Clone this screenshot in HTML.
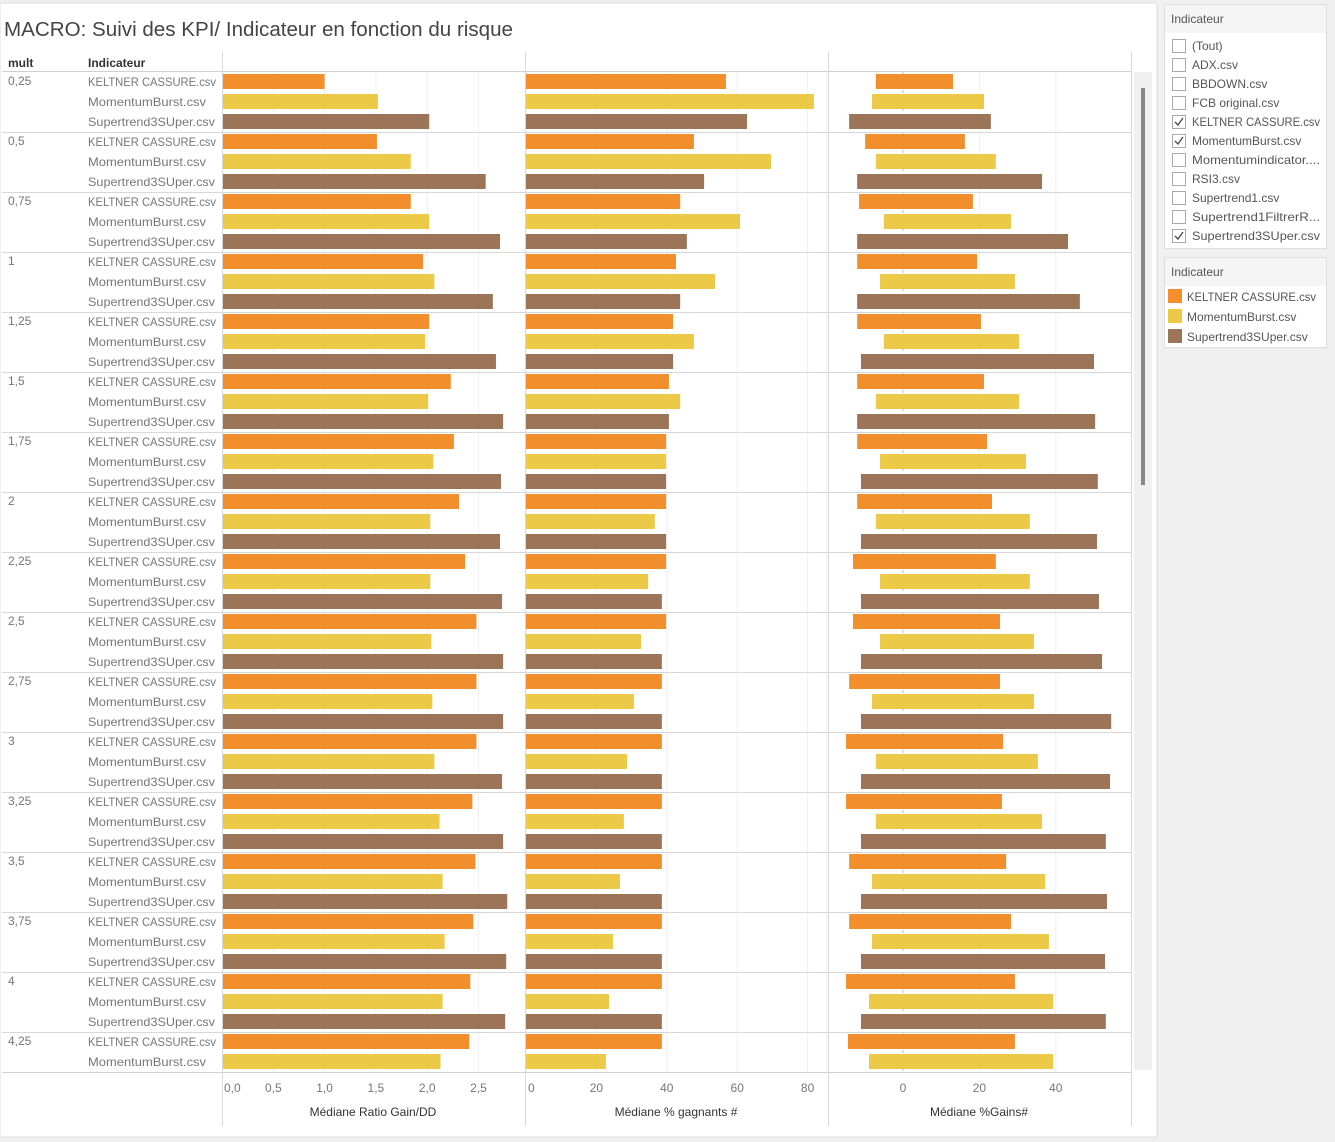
<!DOCTYPE html>
<html><head><meta charset="utf-8"><style>
body{margin:0;background:#f0f0f0;font-family:"Liberation Sans",sans-serif;}
svg{display:block}
text{font-family:"Liberation Sans",sans-serif;}
</style></head><body>
<svg id="c" width="1335" height="1142" xmlns="http://www.w3.org/2000/svg">
<rect x="0" y="0" width="1335" height="1142" fill="#f0f0f0"/>
<rect x="0" y="3" width="1157" height="1134" fill="#fff" stroke="#ddd"/>
<text x="4" y="36" font-size="20" fill="#444" textLength="509" lengthAdjust="spacingAndGlyphs">MACRO: Suivi des KPI/ Indicateur en fonction du risque</text>
<text x="8" y="67" font-size="12" font-weight="bold" fill="#333">mult</text>
<text x="88" y="67" font-size="12" font-weight="bold" fill="#333">Indicateur</text>
<g id="plot"></g>
<rect x="1134" y="72" width="18" height="998" fill="#f0f0f0"/>
<rect x="1141" y="88" width="4" height="397" fill="#888"/>
<g>
<rect x="1164.5" y="4.5" width="162" height="244" fill="#fff" stroke="#ddd"/>
<rect x="1165" y="5" width="161" height="28" fill="#f5f5f5"/>
<text x="1171" y="23" font-size="12" fill="#555">Indicateur</text>
<g id="filters"></g>
</g>
<g>
<rect x="1164.5" y="257.5" width="162" height="90" fill="#fff" stroke="#ddd"/>
<rect x="1165" y="258" width="161" height="28" fill="#f5f5f5"/>
<text x="1171" y="276" font-size="12" fill="#555">Indicateur</text>
<rect x="1168" y="289" width="14" height="14" fill="#F28E2B"/>
<text x="1187" y="301" font-size="12" fill="#555" textLength="129" lengthAdjust="spacingAndGlyphs">KELTNER CASSURE.csv</text>
<rect x="1168" y="309" width="14" height="14" fill="#EDC948"/>
<text x="1187" y="321" font-size="12" fill="#555">MomentumBurst.csv</text>
<rect x="1168" y="329" width="14" height="14" fill="#9C7559"/>
<text x="1187" y="341" font-size="12" fill="#555">Supertrend3SUper.csv</text>
</g>
</svg>
<script>
const mults=["0,25","0,5","0,75","1","1,25","1,5","1,75","2","2,25","2,5","2,75","3","3,25","3,5","3,75","4","4,25"];
const indicators=["KELTNER CASSURE.csv","MomentumBurst.csv","Supertrend3SUper.csv"];
const ratioK=[1.00,1.51,1.84,1.96,2.02,2.23,2.26,2.31,2.37,2.48,2.48,2.48,2.44,2.47,2.45,2.42,2.41];
const ratioM=[1.52,1.84,2.02,2.07,1.98,2.01,2.06,2.03,2.03,2.04,2.05,2.07,2.12,2.15,2.17,2.15,2.13];
const ratioS=[2.02,2.57,2.71,2.64,2.67,2.74,2.72,2.71,2.73,2.74,2.74,2.73,2.74,2.78,2.77,2.76,2.76];
const gagK=[56.8,47.7,43.8,42.6,41.8,40.6,39.8,39.8,39.8,39.8,38.6,38.6,38.6,38.6,38.6,38.6,38.6];
const gagM=[81.8,69.6,60.8,53.7,47.7,43.8,39.8,36.6,34.7,32.7,30.7,28.7,27.8,26.7,24.7,23.6,22.7];
const gagS=[62.8,50.6,45.7,43.8,41.8,40.6,39.8,39.8,38.6,38.6,38.6,38.6,38.6,38.6,38.6,38.6,38.6];
const gainLowK=[-7.1,-9.9,-11.5,-12,-12,-12,-12,-12,-13.1,-13.1,-14.1,-14.9,-14.9,-14.1,-14.1,-14.9,-14.4];
const gainHighK=[13.1,16.2,18.3,19.4,20.4,21.2,22,23.3,24.3,25.4,25.4,26.2,25.9,27,28.3,29.3,29.3];
const gainLowM=[-8.1,-7.1,-5,-6,-5,-7.1,-6,-7.1,-6,-6,-8.1,-7.1,-7.1,-8.1,-8.1,-8.9,-8.9];
const gainHighM=[21.2,24.3,28.3,29.3,30.4,30.4,32.2,33.2,33.2,34.3,34.3,35.3,36.4,37.2,38.2,39.3,39.3];
const gainLowS=[-14.1,-12,-12,-12,-11,-12,-11,-11,-11,-11,-11,-11,-11,-11,-11,-11,-11];
const gainHighS=[23,36.4,43.2,46.3,50,50.3,51,50.8,51.3,52.1,54.5,54.2,53.1,53.4,52.9,53.1,53.1];
const ticks1=[0,0.5,1,1.5,2,2.5];
const ticks1Labels=["0,0","0,5","1,0","1,5","2,0","2,5"];
const ticks2=[0,20,40,60,80];
const ticks3=[0,20,40];
const colors=["#F28E2B","#EDC948","#9C7559"];
const labelWidths=[128,118,127];
const filterItems=["(Tout)","ADX.csv","BBDOWN.csv","FCB original.csv","KELTNER CASSURE.csv","MomentumBurst.csv","Momentumindicator....","RSI3.csv","Supertrend1.csv","Supertrend1FiltrerR...","Supertrend3SUper.csv"];
const filterChecked=[false,false,false,false,true,true,false,false,false,false,true];

const NS="http://www.w3.org/2000/svg";
const plot=document.getElementById('plot');
function el(tag,attrs,parent,txt){const e=document.createElementNS(NS,tag);for(const k in attrs)e.setAttribute(k,attrs[k]);if(txt!==undefined)e.textContent=txt;(parent||plot).appendChild(e);return e;}
const x1=v=>222+v*102.6, x2=v=>526+v*3.52, x3=v=>903+v*3.82;
const TOP=72, ROW=20, BOT=1072;
ticks1.forEach(t=>{if(t>0){const g=el('line',{x1:x1(t),x2:x1(t),y1:TOP,y2:BOT,stroke:'#f0f0f0'});}});
ticks2.forEach(t=>{if(t>0){const g=el('line',{x1:x2(t),x2:x2(t),y1:TOP,y2:BOT,stroke:'#f0f0f0'});}});
[-20,20,40].forEach(t=>{const g=el('line',{x1:x3(t),x2:x3(t),y1:TOP,y2:BOT,stroke:'#f0f0f0'});});
const z=el('line',{x1:x3(0),x2:x3(0),y1:TOP,y2:BOT,stroke:'#bbb','stroke-dasharray':'3,3'});

const series=[[ratioK,ratioM,ratioS],[gagK,gagM,gagS]];
const lows=[gainLowK,gainLowM,gainLowS], highs=[gainHighK,gainHighM,gainHighS];
mults.forEach((m,gi)=>{
  const gy=TOP+gi*60;
  const t=el('text',{x:8,y:gy+13,'font-size':12,fill:'#777'},plot,m);
  
  indicators.forEach((ind,ri)=>{
    const y=gy+ri*ROW+2;
    if(y+15>BOT)return;
    const lt=el('text',{x:88,y:y+12,'font-size':12,fill:'#777',textLength:labelWidths[ri],lengthAdjust:'spacingAndGlyphs'},plot,ind);
    
    const v1=series[0][ri][gi], v2=series[1][ri][gi];
    const b1=el('rect',{x:x1(0)+1,y:y,width:x1(v1)-x1(0)-1,height:15,fill:colors[ri]});
    
    const b2=el('rect',{x:x2(0),y:y,width:x2(v2)-x2(0),height:15,fill:colors[ri]});
    
    const lo=lows[ri][gi], hi=highs[ri][gi];
    const b3=el('rect',{x:x3(lo),y:y,width:x3(hi)-x3(lo),height:15,fill:colors[ri]});
    
  });
  if(gi>0){const s=el('line',{x1:2,x2:1131,y1:gy+0.5,y2:gy+0.5,stroke:'#d8d8d8'});}
});
[[2,1131,71.5,71.5],[2,1131,1072.5,1072.5]].forEach(a=>{const l=el('line',{x1:a[0],x2:a[1],y1:a[2],y2:a[3],stroke:'#d0d0d0'});});
[222.5,525.5,828.5,1131.5].forEach(x=>{const l=el('line',{x1:x,x2:x,y1:52,y2:1126,stroke:'#d8d8d8'});});
ticks1.forEach((t,i)=>{const tx=el('text',{x:i==0?224:x1(t),y:1092,'font-size':12,fill:'#777','text-anchor':i==0?'start':'middle'},plot,ticks1Labels[i]);});
ticks2.forEach((t,i)=>{const tx=el('text',{x:i==0?528:x2(t),y:1092,'font-size':12,fill:'#777','text-anchor':i==0?'start':'middle'},plot,String(t));});
ticks3.forEach(t=>{const tx=el('text',{x:x3(t),y:1092,'font-size':12,fill:'#777','text-anchor':'middle'},plot,String(t));});
[["Médiane Ratio Gain/DD",373],["Médiane % gagnants #",676],["Médiane %Gains#",979]].forEach(a=>{const tx=el('text',{x:a[1],y:1116,'font-size':12,fill:'#333','text-anchor':'middle'},plot,a[0]);});
const fg=document.getElementById('filters');
filterItems.forEach((f,i)=>{
  const y=39+i*19;
  const b=el('rect',{x:1172.5,y:y+0.5,width:13,height:13,fill:'#fff',stroke:'#aaa'},fg);
  
  if(filterChecked[i]){const c=el('path',{d:`M${1175} ${y+7} l3 3 l5 -7`,stroke:'#444',fill:'none','stroke-width':1.3},fg);}
  const attrs={x:1192,y:y+11,'font-size':12,fill:'#555'};
  if(f.length>18){attrs.textLength=128;attrs.lengthAdjust='spacingAndGlyphs';}
  const t=el('text',attrs,fg,f);
  
});
</script>
</body></html>
